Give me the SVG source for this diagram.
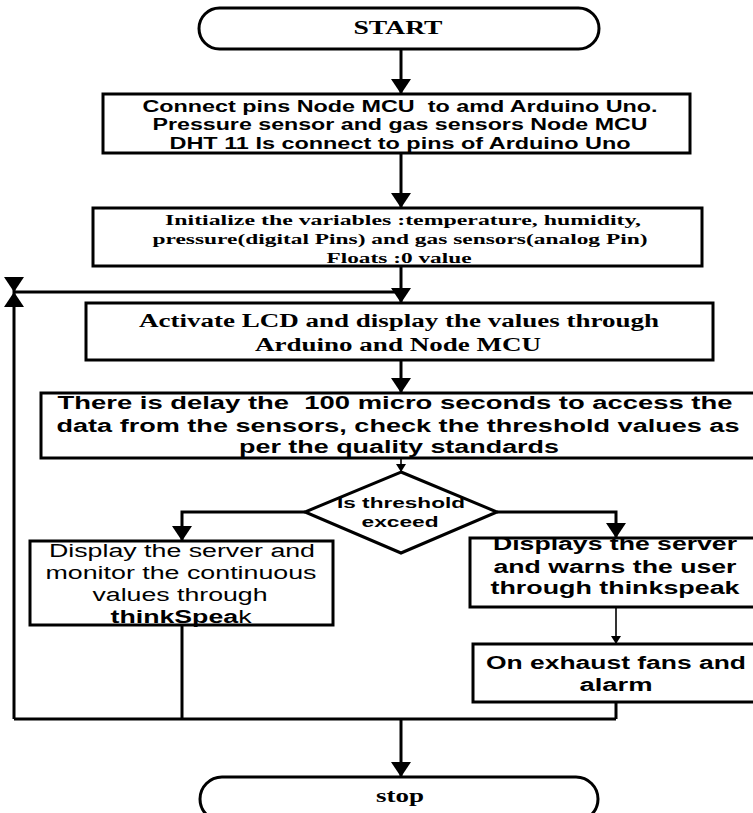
<svg xmlns="http://www.w3.org/2000/svg" width="753" height="813" viewBox="0 0 753 813">
<defs>
<style>
.box{fill:#fff;stroke:#000;stroke-width:3}
.term{fill:#fff;stroke:#000;stroke-width:3}
.c{fill:none;stroke:#000;stroke-width:3}
.t{fill:none;stroke:#000;stroke-width:1.6}
.sans{font-family:"Liberation Sans",Arial,sans-serif;fill:#000;text-anchor:middle}
.serif{font-family:"Liberation Serif","Times New Roman",serif;fill:#000;text-anchor:middle;font-weight:bold}
.b{font-weight:bold}
</style>
<marker id="ah" viewBox="0 0 15 20" markerWidth="15" markerHeight="20" refX="15" refY="10" orient="auto" markerUnits="userSpaceOnUse"><path d="M0,0 L15,10 L0,20 z" fill="#000"/></marker>
<marker id="ahs" viewBox="0 0 8 10" markerWidth="8" markerHeight="10" refX="8" refY="5" orient="auto" markerUnits="userSpaceOnUse"><path d="M0,0 L8,5 L0,10 z" fill="#000"/></marker>
</defs>

<g id="connectors">
<path class="c" d="M401,49 V94" marker-end="url(#ah)"/>
<path class="c" d="M401,153 V208" marker-end="url(#ah)"/>
<path class="c" d="M401,266 V303" marker-end="url(#ah)"/>
<path class="c" d="M14,292 H401"/>
<path class="c" d="M14,279 V292" marker-end="url(#ah)"/>
<path class="c" d="M14,719 V292" marker-end="url(#ah)"/>
<path class="c" d="M401,360 V393" marker-end="url(#ah)"/>
<path class="t" d="M401,458 V472" marker-end="url(#ahs)"/>
<path class="c" d="M305,512 H182 V541" marker-end="url(#ah)"/>
<path class="c" d="M497,512 H616 V538" marker-end="url(#ah)"/>
<path class="t" d="M616,607 V644" marker-end="url(#ahs)"/>
<path class="c" d="M182,625 V719"/>
<path class="c" d="M616,702 V719"/>
<path class="c" d="M14,719 H616"/>
<path class="c" d="M401,719 V777" marker-end="url(#ah)"/>
</g>

<g id="start">
<rect class="term" x="199" y="8" width="400" height="41" rx="20.5"/>
<text class="serif" x="398" y="34" font-size="18" textLength="89" lengthAdjust="spacingAndGlyphs">START</text>
</g>

<g id="connect">
<rect class="box" x="103" y="94" width="587" height="59"/>
<text class="sans b" font-size="16" x="400" y="112" textLength="515" lengthAdjust="spacingAndGlyphs" xml:space="preserve">Connect pins Node MCU  to amd Arduino Uno.</text>
<text class="sans b" font-size="16" x="400" y="130" textLength="495" lengthAdjust="spacingAndGlyphs">Pressure sensor and gas sensors Node MCU</text>
<text class="sans b" font-size="16" x="400" y="149" textLength="461" lengthAdjust="spacingAndGlyphs">DHT 11 Is connect to pins of Arduino Uno</text>
</g>

<g id="init">
<rect class="box" x="93" y="208" width="609" height="58"/>
<text class="serif" font-size="15" x="403" y="225" textLength="476" lengthAdjust="spacingAndGlyphs">Initialize the variables :temperature, humidity,</text>
<text class="serif" font-size="15" x="400" y="244" textLength="495" lengthAdjust="spacingAndGlyphs">pressure(digital Pins) and gas sensors(analog Pin)</text>
<text class="serif" font-size="15" x="399" y="263" textLength="145" lengthAdjust="spacingAndGlyphs">Floats :0 value</text>
</g>

<g id="lcd">
<rect class="box" x="86" y="303" width="627" height="57"/>
<text class="serif" font-size="18" x="399" y="327" textLength="520" lengthAdjust="spacingAndGlyphs">Activate LCD and display the values through</text>
<text class="serif" font-size="18" x="398" y="351" textLength="286" lengthAdjust="spacingAndGlyphs">Arduino and Node MCU</text>
</g>

<g id="delay">
<rect class="box" x="41" y="393" width="730" height="65"/>
<text class="sans b" font-size="18" x="395" y="409" textLength="675" lengthAdjust="spacingAndGlyphs" xml:space="preserve">There is delay the  100 micro seconds to access the</text>
<text class="sans b" font-size="18" x="398" y="432" textLength="683" lengthAdjust="spacingAndGlyphs">data from the sensors, check the threshold values as</text>
<text class="sans b" font-size="18" x="399" y="453" textLength="320" lengthAdjust="spacingAndGlyphs">per the quality standards</text>
</g>

<g id="decision">
<polygon class="box" points="401,472 497,512 401,553 305,512"/>
<text class="sans b" font-size="15" x="401" y="508" textLength="128" lengthAdjust="spacingAndGlyphs">Is threshold</text>
<text class="sans b" font-size="15" x="400" y="527" textLength="77" lengthAdjust="spacingAndGlyphs">exceed</text>
</g>

<g id="monitor">
<rect class="box" x="30" y="541" width="303" height="84"/>
<text class="sans" font-size="18" x="182" y="557" textLength="266" lengthAdjust="spacingAndGlyphs">Display the server and</text>
<text class="sans" font-size="18" x="181" y="579" textLength="271" lengthAdjust="spacingAndGlyphs">monitor the continuous</text>
<text class="sans" font-size="18" x="180" y="601" textLength="175" lengthAdjust="spacingAndGlyphs">values through</text>
<text class="sans" font-size="18" x="181" y="623" textLength="141" lengthAdjust="spacingAndGlyphs"><tspan class="b">thinkSpea</tspan>k</text>
</g>

<g id="warn">
<rect class="box" x="470" y="538" width="300" height="69"/>
<text class="sans b" font-size="18" x="615" y="550" textLength="244" lengthAdjust="spacingAndGlyphs">Displays the server</text>
<text class="sans b" font-size="18" x="615" y="573" textLength="243" lengthAdjust="spacingAndGlyphs">and warns the user</text>
<text class="sans b" font-size="18" x="615" y="594" textLength="249" lengthAdjust="spacingAndGlyphs">through thinkspeak</text>
</g>

<g id="fans">
<rect class="box" x="473" y="644" width="300" height="58"/>
<text class="sans b" font-size="18" x="616" y="669" textLength="260" lengthAdjust="spacingAndGlyphs">On exhaust fans and</text>
<text class="sans b" font-size="18" x="616" y="691" textLength="73" lengthAdjust="spacingAndGlyphs">alarm</text>
</g>

<g id="stop">
<rect class="term" x="200" y="777" width="398" height="44" rx="22"/>
<text class="serif" x="400" y="802" font-size="18" textLength="48" lengthAdjust="spacingAndGlyphs">stop</text>
</g>
</svg>
